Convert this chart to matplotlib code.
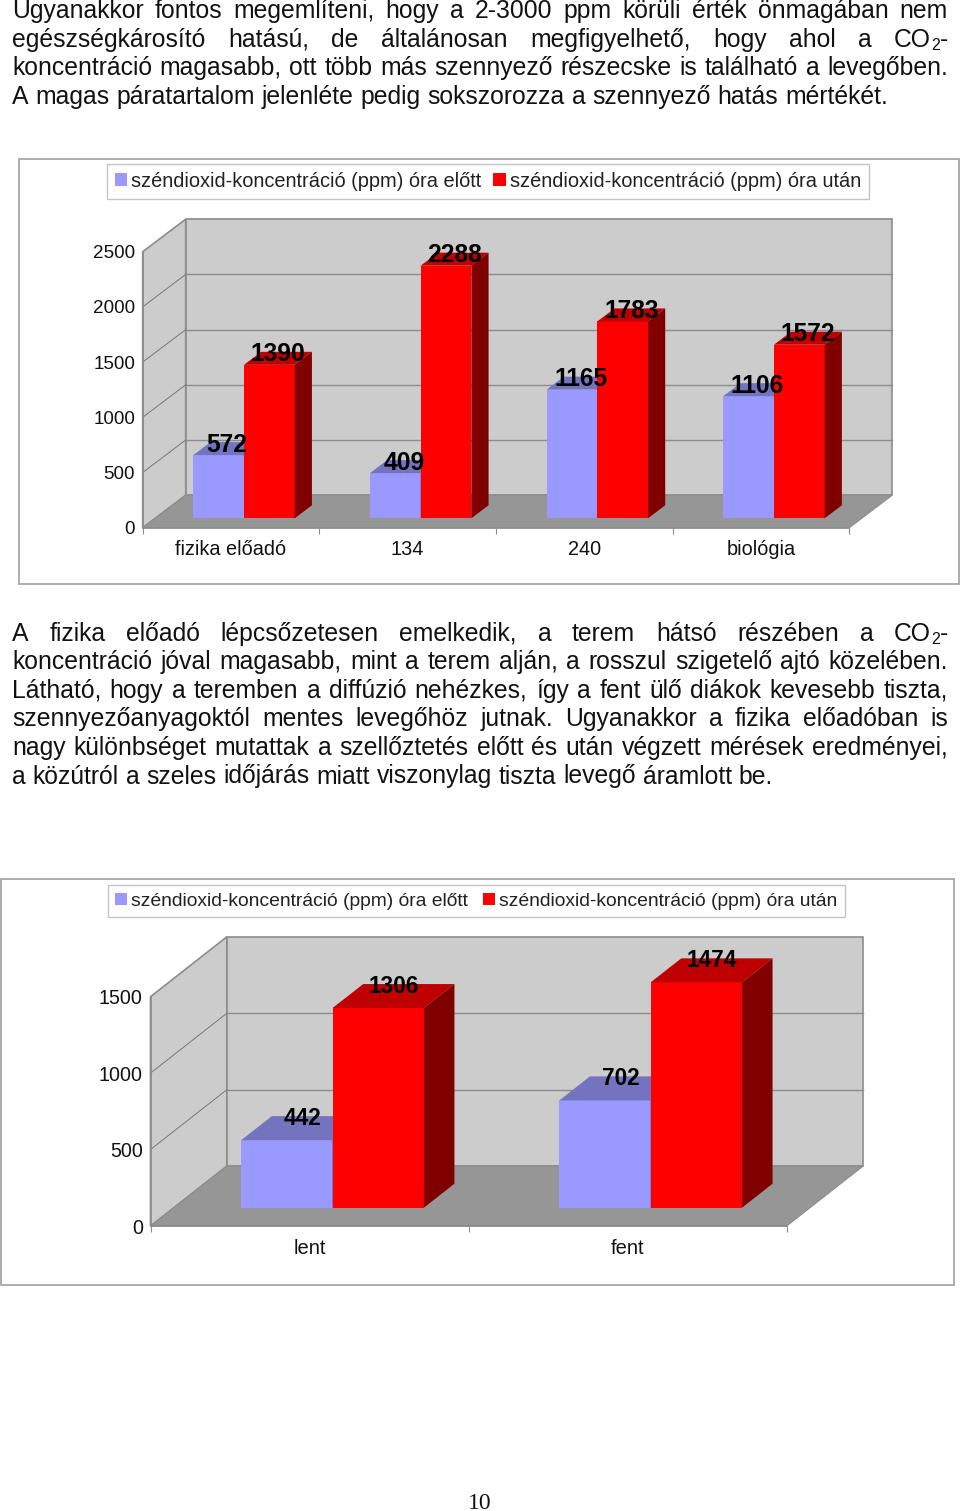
import matplotlib
matplotlib.use("Agg")
import matplotlib.pyplot as plt
from matplotlib.patches import Rectangle

W, H = 960, 1511

# adatok
categories_1 = ["fizika előadó", "134", "240", "biológia"]
before_1 = [572, 409, 1165, 1106]
after_1 = [1390, 2288, 1783, 1572]
yticks_1 = [0, 500, 1000, 1500, 2000, 2500]

categories_2 = ["lent", "fent"]
before_2 = [442, 702]
after_2 = [1306, 1474]
yticks_2 = [0, 500, 1000, 1500]

series_names = ["széndioxid-koncentráció (ppm) óra előtt",
                "széndioxid-koncentráció (ppm) óra után"]

para_1 = ["Ugyanakkor fontos megemlíteni, hogy a 2-3000 ppm körüli érték önmagában nem",
          "egészségkárosító hatású, de általánosan megfigyelhető, hogy ahol a CO_2-",
          "koncentráció magasabb, ott több más szennyező részecske is található a levegőben.",
          "A magas páratartalom jelenléte pedig sokszorozza a szennyező hatás mértékét."]
para_2 = ["A fizika előadó lépcsőzetesen emelkedik, a terem hátsó részében a CO_2-",
          "koncentráció jóval magasabb, mint a terem alján, a rosszul szigetelő ajtó közelében.",
          "Látható, hogy a teremben a diffúzió nehézkes, így a fent ülő diákok kevesebb tiszta,",
          "szennyezőanyagoktól mentes levegőhöz jutnak. Ugyanakkor a fizika előadóban is",
          "nagy különbséget mutattak a szellőztetés előtt és után végzett mérések eredményei,",
          "a közútról a szeles időjárás miatt viszonylag tiszta levegő áramlott be."]

plt.rcParams["font.family"] = ["Liberation Sans", "DejaVu Sans"]

WALL = "#cccccc"
FLOOR = "#969696"
EDGE = "#8c8c8c"
BLUE = ("#9999ff", "#7373bf", "#4d4d80")
RED = ("#ff0000", "#bf0000", "#800000")
TEXT_SIZE = 17.83

fig = plt.figure(figsize=(W / 100, H / 100), dpi=100)
renderer = fig.canvas.get_renderer()


def px(x, y):
    return x / W, 1 - y / H


def put_piece(x, y, s, size=TEXT_SIZE):
    t = fig.text(*px(x, y), s, fontsize=size, ha="left", va="baseline", color="#111111")
    return t.get_window_extent(renderer).width


def piece_width(s, size=TEXT_SIZE):
    t = fig.text(0, 0, s, fontsize=size)
    w = t.get_window_extent(renderer).width
    t.remove()
    return w


def word_width(word):
    if "_" in word:
        a, b = word.split("_")
        return piece_width(a) + piece_width(b[0], 11.5) + piece_width(b[1:])
    return piece_width(word)


def put_word(x, y, word):
    if "_" in word:  # CO2 alsó indexszel
        a, b = word.split("_")
        x += put_piece(x, y, a)
        x += put_piece(x, y + 3, b[0], 11.5)
        put_piece(x, y, b[1:])
    else:
        put_piece(x, y, word)


def paragraph(lines, y0, pitch, left=12, right=948):
    for i, line in enumerate(lines):
        words = line.split(" ")
        widths = [word_width(w) for w in words]
        gap = (right - left - sum(widths)) / (len(words) - 1)
        if i == len(lines) - 1:  # utolsó sor nincs sorkizárva
            gap = piece_width("a a") - 2 * piece_width("a")
        x = left
        for w, ww in zip(words, widths):
            put_word(x, y0 + i * pitch, w)
            x += ww + gap


def frame(x0, y0, x1, y1):
    fig.add_artist(Rectangle(px(x0, y1), (x1 - x0) / W, (y1 - y0) / H, transform=fig.transFigure,
                             fill=False, edgecolor="#a6a6a6", linewidth=1.3))


def chart(cats, before, after, yticks, box, legend_box, legend_size, tick_size, cat_size, label_size,
          dx_px, dy_px, x_gap, bar_w, base_frac):
    # box: az első sík pixelben (bal, felső, jobb, alsó)
    x0, y0, x1, y1 = box
    ax = fig.add_axes([x0 / W, 1 - y1 / H, (x1 - x0) / W, (y1 - y0) / H])
    n = len(cats)
    ymax = yticks[-1]
    ax.set_xlim(0, n)
    ax.set_ylim(0, ymax)
    dx = dx_px * n / (x1 - x0)
    dy = dy_px * ymax / (y1 - y0)

    # fal és padló
    ax.fill([0, dx, dx, 0], [0, dy, ymax + dy, ymax], fc=WALL, ec=EDGE, lw=1.2, clip_on=False, zorder=1)
    ax.fill([dx, n + dx, n + dx, dx], [dy, dy, ymax + dy, ymax + dy], fc=WALL, ec=EDGE, lw=1.2,
            clip_on=False, zorder=1)
    ax.fill([0, n, n + dx, dx], [0, 0, dy, dy], fc=FLOOR, ec=EDGE, lw=0.8, clip_on=False, zorder=2)
    for v in yticks[1:-1]:
        ax.plot([0, dx], [v, v + dy], color="#777777", lw=0.7, clip_on=False, zorder=2)
        ax.plot([dx, n + dx], [v + dy, v + dy], color=EDGE, lw=1.0, clip_on=False, zorder=2)

    # oszlopok
    bx = base_frac * dx
    by = base_frac * dy
    ddx = 0.4 * dx
    ddy = 0.4 * dy
    handles = []
    for k, (vals, cols) in enumerate([(before, BLUE), (after, RED)]):
        xs = [i + bx + x_gap + k * bar_w for i in range(n)]
        bars = ax.bar(xs, vals, width=bar_w, bottom=by, align="edge", color=cols[0],
                      clip_on=False, zorder=3 + k)
        handles.append(bars)
        for x, v in zip(xs, vals):
            top = by + v
            ax.fill([x, x + bar_w, x + bar_w + ddx, x + ddx], [top, top, top + ddy, top + ddy],
                    fc=cols[1], lw=0, clip_on=False, zorder=3 + k)
            ax.fill([x + bar_w, x + bar_w + ddx, x + bar_w + ddx, x + bar_w],
                    [by, by + ddy, top + ddy, top], fc=cols[2], lw=0, clip_on=False, zorder=3 + k)
            ax.text(x + bar_w / 2 + ddx / 2, top + ddy, str(v), fontsize=label_size, fontweight="bold",
                    ha="center", va="center_baseline", color="black", clip_on=False, zorder=6)

    # tengelyek
    ax.patch.set_visible(False)
    for side in ["top", "right"]:
        ax.spines[side].set_visible(False)
    for side in ["left", "bottom"]:
        ax.spines[side].set_color(EDGE)
        ax.spines[side].set_linewidth(1.2)
        ax.spines[side].set_zorder(7)
    ax.set_yticks(yticks)
    ax.tick_params(axis="y", length=0, pad=5.5, labelsize=tick_size, labelcolor="#111111")
    for lab in ax.get_yticklabels():
        lab.set_verticalalignment("center_baseline")
    ax.set_xticks(range(n + 1))
    ax.set_xticklabels([])
    ax.set_xticks([i + 0.5 for i in range(n)], minor=True)
    ax.set_xticklabels(cats, minor=True)
    ax.tick_params(axis="x", which="major", length=4, color=EDGE)
    ax.tick_params(axis="x", which="minor", length=0, pad=9, labelsize=cat_size, labelcolor="#111111")

    # jelmagyarázat
    lx0, ly0, lx1, ly1 = legend_box
    fig.legend(handles, series_names, ncol=2, loc="center", mode="expand",
               bbox_to_anchor=(lx0 / W, 1 - ly1 / H, (lx1 - lx0) / W, (ly1 - ly0) / H),
               fontsize=legend_size, fancybox=False, framealpha=1, edgecolor="#c4c4c4",
               handlelength=0.62, handleheight=0.62, handletextpad=0.2, borderpad=0.4,
               borderaxespad=0, labelcolor="#222222")


paragraph(para_1, 18, 28.7)
paragraph(para_2, 640.5, 28.6)

frame(19, 159.5, 958.5, 584)
chart(categories_1, before_1, after_1, yticks_1, (142.7, 251.7, 849.3, 527.7), (107, 163.5, 869, 199),
      14.4, 13.6, 14.3, 17.7, 43, 32.5, 0.216, 0.287, 0.29)

frame(1, 879, 954.3, 1284.5)
chart(categories_2, before_2, after_2, yticks_2, (150.5, 996.7, 786.7, 1226), (107.5, 884, 844.5, 918.5),
      13.85, 14.1, 14.5, 16.3, 76.5, 60, 0.212, 0.287, 0.305)

fig.text(*px(480, 1509), "10", fontsize=17, family="Liberation Serif", ha="center", va="baseline", color="#111111")

fig.savefig("out.png", dpi=100)
